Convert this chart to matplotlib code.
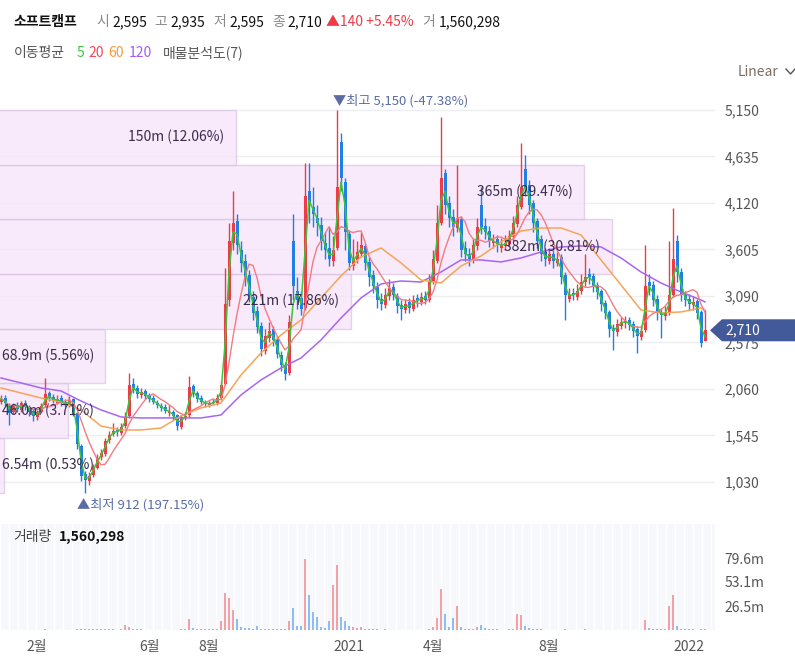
import numpy as np
import pandas as pd
import matplotlib
matplotlib.use('Agg')
import matplotlib.pyplot as plt
from matplotlib.patches import Rectangle, Polygon
from matplotlib.transforms import blended_transform_factory

plt.rcParams['font.family'] = ['Noto Sans CJK KR', 'DejaVu Sans']

name = '소프트캠프'

# 캔들 (3거래일 단위로 읽은 값)
opens = [
    1920, 1960, 1880, 1800, 1880, 1830, 1910, 1860, 1820, 1750,
    1810, 1880, 2010, 1970, 1910, 1960, 1920, 1880, 1950, 1790,
    1430, 1120, 1040, 1110, 1190, 1310, 1340, 1490, 1560, 1620,
    1570, 1650, 1760, 2120, 2070, 1990, 2040, 1990, 1960, 1910,
    1870, 1860, 1790, 1810, 1770, 1640, 1740, 1770, 2090, 2010,
    1960, 1910, 1880, 1920, 1900, 1960, 2110, 3050, 3680, 3920,
    3600, 3480, 3320, 3080, 2920, 2760, 2480, 2620, 2720, 2610,
    2440, 2330, 2240, 3700, 3150, 3070, 2960, 4250, 4080, 3950,
    3880, 3680, 3620, 3480, 3620, 4800, 4350, 3780, 3420, 3490,
    3560, 3640, 3470, 3320, 3190, 3060, 2990, 3090, 3190, 3090,
    2990, 2940, 3020, 2950, 3070, 3020, 3090, 3040, 3240, 3480,
    3900, 4450, 4120, 3960, 3840, 3940, 3620, 3560, 3490, 3640,
    4100, 3870, 3810, 3680, 3720, 3620, 3640, 3670, 3740, 3890,
    4080, 4500, 4320, 4120, 3920, 3720, 3580, 3480, 3560, 3460,
    3520, 3320, 3060, 3120, 3080, 3140, 3240, 3330, 3310, 3210,
    3140, 3010, 2910, 2740, 2690, 2760, 2790, 2820, 2780, 2720,
    2640, 2710, 3250, 3210, 3060, 2910, 2870, 2900, 3100, 3700,
    3360, 3110, 3060, 2990, 3030, 2910, 2595]
highs = [
    1990, 1990, 1900, 1900, 1920, 1930, 1940, 1880, 1840, 1830,
    1900, 2180, 2040, 2000, 1990, 1990, 1950, 1980, 1960, 1800,
    1450, 1150, 1140, 1230, 1340, 1390, 1520, 1590, 1680, 1640,
    1680, 1800, 2240, 2180, 2100, 2070, 2060, 2020, 1990, 1940,
    1900, 1890, 1880, 1830, 1780, 1770, 1800, 2200, 2120, 2040,
    1990, 1940, 1930, 1950, 2000, 2150, 3400, 3900, 4250, 4000,
    3700, 3560, 3380, 3150, 2980, 2800, 2720, 2800, 2760, 2650,
    2480, 2360, 2880, 4000, 3300, 3150, 4560, 4560, 4300, 4100,
    3960, 3800, 3850, 3750, 5150, 4900, 4400, 3820, 3720, 3700,
    3800, 3680, 3520, 3380, 3240, 3120, 3180, 3280, 3230, 3120,
    3040, 3060, 3070, 3100, 3110, 3130, 3140, 3330, 3600, 4100,
    5070, 4500, 4200, 4050, 4540, 3980, 3700, 3620, 3720, 3950,
    4300, 3950, 3860, 3780, 3770, 3730, 3760, 3820, 3980, 4200,
    4780, 4650, 4380, 4150, 3950, 3760, 3620, 3620, 3600, 3580,
    3550, 3350, 3180, 3180, 3220, 3330, 3560, 3400, 3340, 3250,
    3170, 3050, 2940, 2780, 2830, 2860, 2870, 2860, 2810, 2760,
    2760, 3650, 3330, 3260, 3100, 2960, 2980, 3700, 4060, 3760,
    3400, 3150, 3110, 3090, 3060, 2940, 2935]
lows = [
    1890, 1870, 1660, 1780, 1800, 1810, 1830, 1760, 1700, 1720,
    1790, 1860, 1930, 1900, 1890, 1870, 1860, 1860, 1760, 1400,
    1040, 912, 1000, 1080, 1170, 1270, 1320, 1460, 1540, 1540,
    1550, 1630, 1740, 2020, 1960, 1960, 1950, 1920, 1890, 1850,
    1820, 1790, 1760, 1720, 1610, 1620, 1720, 1750, 1970, 1920,
    1890, 1860, 1860, 1880, 1880, 1940, 2100, 2980, 3600, 3550,
    3350, 3200, 3020, 2820, 2680, 2420, 2450, 2580, 2540, 2400,
    2260, 2160, 2220, 3050, 2950, 2880, 2940, 3900, 3850, 3750,
    3600, 3500, 3420, 3420, 3600, 4250, 3600, 3380, 3380, 3450,
    3520, 3380, 3200, 3120, 2960, 2930, 2960, 3050, 3040, 2900,
    2820, 2900, 2900, 2920, 2970, 2990, 3000, 3020, 3220, 3450,
    3880, 4000, 3850, 3750, 3800, 3520, 3480, 3420, 3460, 3600,
    3780, 3720, 3630, 3620, 3580, 3580, 3600, 3640, 3700, 3850,
    4050, 4200, 4000, 3800, 3620, 3480, 3420, 3440, 3400, 3420,
    3220, 2820, 3020, 3040, 3040, 3110, 3200, 3220, 3130, 3060,
    2920, 2830, 2640, 2490, 2650, 2720, 2740, 2710, 2640, 2460,
    2600, 2690, 3100, 2980, 2820, 2620, 2820, 2880, 3080, 3250,
    3030, 2980, 2940, 2940, 2830, 2530, 2595]
closes = [
    1950, 1900, 1790, 1870, 1840, 1900, 1860, 1810, 1760, 1800,
    1870, 2000, 1960, 1930, 1950, 1900, 1890, 1940, 1800, 1450,
    1100, 1050, 1100, 1200, 1300, 1350, 1480, 1550, 1600, 1580,
    1640, 1750, 2100, 2060, 2000, 2030, 1980, 1950, 1920, 1880,
    1850, 1820, 1800, 1760, 1650, 1750, 1760, 2080, 2000, 1950,
    1920, 1890, 1900, 1910, 1960, 2100, 3000, 3700, 3900, 3650,
    3450, 3300, 3100, 2900, 2750, 2500, 2650, 2700, 2600, 2450,
    2320, 2230, 2800, 3200, 3050, 2950, 4200, 4100, 4000, 3900,
    3700, 3600, 3500, 3600, 4300, 4400, 3800, 3450, 3500, 3580,
    3650, 3450, 3300, 3200, 3050, 3000, 3100, 3180, 3100, 2980,
    2950, 3000, 2960, 3050, 3030, 3080, 3050, 3250, 3500, 3900,
    4400, 4100, 3950, 3850, 3950, 3600, 3550, 3500, 3650, 3850,
    3850, 3800, 3700, 3700, 3650, 3650, 3680, 3750, 3900, 4100,
    4300, 4300, 4100, 3900, 3700, 3550, 3500, 3550, 3480, 3500,
    3300, 3100, 3100, 3100, 3150, 3250, 3300, 3300, 3200, 3130,
    3000, 2900, 2720, 2700, 2780, 2800, 2810, 2770, 2700, 2650,
    2700, 3200, 3200, 3050, 2900, 2880, 2900, 3100, 3500, 3350,
    3100, 3050, 3000, 3020, 2900, 2570, 2710]
# 거래량 (백만주)
volumes = [
    0.4, 0.3, 0.5, 0.3, 0.3, 0.4, 0.3, 0.3, 0.4, 0.3,
    0.3, 0.6, 0.4, 0.3, 0.3, 0.3, 0.3, 0.3, 0.4, 0.6,
    0.8, 0.9, 0.6, 0.7, 0.8, 1.5, 0.6, 0.7, 0.8, 0.5,
    0.6, 5.5, 3.0, 1.2, 0.8, 0.6, 0.5, 0.5, 0.4, 0.4,
    0.4, 0.4, 0.5, 0.4, 0.5, 0.6, 0.8, 12.0, 2.0, 1.0,
    0.7, 0.6, 0.6, 0.7, 1.2, 10.0, 41.0, 35.0, 22.0, 12.0,
    3.0, 2.0, 2.0, 1.5, 4.0, 1.5, 1.5, 1.2, 1.0, 1.0,
    1.0, 1.5, 10.0, 24.0, 4.0, 4.0, 78.0, 39.0, 20.0, 14.0,
    3.0, 2.5, 10.0, 50.0, 72.0, 14.0, 10.0, 4.0, 3.0, 2.5,
    3.0, 1.5, 1.0, 0.8, 0.6, 0.5, 0.6, 0.5, 0.4, 0.4,
    0.4, 0.3, 0.3, 0.3, 0.4, 0.3, 0.4, 1.0, 3.0, 13.0,
    45.0, 18.0, 3.0, 13.0, 26.0, 3.0, 1.5, 1.0, 1.5, 3.0,
    6.0, 2.0, 1.0, 0.8, 0.6, 0.5, 0.5, 0.8, 1.0, 18.0,
    17.0, 4.0, 2.0, 1.0, 0.8, 0.6, 0.5, 0.5, 0.4, 0.4,
    0.5, 0.6, 0.4, 0.3, 0.3, 0.4, 1.0, 0.4, 0.3, 0.3,
    0.3, 0.3, 0.4, 0.5, 0.3, 0.3, 0.3, 0.3, 0.3, 0.4,
    0.4, 11.0, 2.0, 1.0, 0.8, 0.6, 0.8, 26.0, 39.0, 4.0,
    1.5, 1.0, 0.8, 0.6, 0.5, 1.0, 1.560298]

# 60일, 120일 이동평균 (5캔들 간격으로 읽음)
ma_idx = list(range(0, 176, 5)) + [176]
ma60 = [2071, 2016, 1960, 1916, 1828, 1650, 1606, 1606, 1628, 1761,
        1850, 1905, 2215, 2459, 2658, 2824, 3068, 3312, 3522, 3622,
        3456, 3267, 3234, 3422, 3533, 3688, 3810, 3843, 3843, 3766,
        3489, 3212, 2935, 2902, 2913, 2957, 2935]
ma120 = [2182, 2127, 2071, 2038, 1927, 1828, 1750, 1739, 1739, 1739,
         1739, 1772, 1994, 2160, 2293, 2403, 2603, 2846, 3068, 3223,
         3256, 3245, 3356, 3489, 3489, 3467, 3511, 3577, 3633, 3644,
         3633, 3511, 3356, 3234, 3134, 3046, 3024]

tick_idx = [9, 37, 52, 87, 108, 137, 172]
tick_labels = ['2월', '6월', '8월', '2021', '4월', '8월', '2022']
price_ticks = [1030, 1545, 2060, 2575, 3090, 3605, 4120, 4635, 5150]
vol_ticks = [26.5, 53.1, 79.6]

# 매물분석도 (아래 구간부터)
profile_vol = [6.54, 46.0, 68.9, 221, 382, 365, 150]
profile_pct = [0.53, 3.71, 5.56, 17.86, 30.81, 29.47, 12.06]

UP = '#ef3a47'
DOWN = '#1f7fe6'
C5, C20, C60, C120 = '#3cc43c', '#f47b80', '#f7a457', '#a865f2'

W, H = 795, 660
fig = plt.figure(figsize=(W / 100, H / 100), dpi=100)


def fx(px):
    return px / W


def fy(py):
    return 1 - py / H


ax = fig.add_axes([0, fy(518), fx(715), fy(80) - fy(518)])
vax = fig.add_axes([0, fy(630), fx(715), fy(524) - fy(630)], sharex=ax)

o = np.array(opens, float)
h = np.array(highs, float)
l = np.array(lows, float)
c = np.array(closes, float)
v = np.array(volumes, float)
n = len(c)
x = np.arange(n)
up = c >= o
col = np.where(up, UP, DOWN)

ax.set_xlim(-0.25, 178.5)
ax.set_ylim(631, 5482)

for s in ax.spines.values():
    s.set_visible(False)
for s in vax.spines.values():
    s.set_visible(False)

# 그리드
for t in price_ticks:
    ax.axhline(t, color='#eceef2', lw=1, zorder=0)

# 매물분석도 박스
edges = np.linspace(l.min(), h.max(), len(profile_vol) + 1)
trans = blended_transform_factory(ax.transAxes, ax.transData)
x0 = -6.6 / 715
maxw = 0.865
labels = []
for k, pv in enumerate(profile_vol):
    w = pv / max(profile_vol) * maxw
    ax.add_patch(Rectangle((x0, edges[k]), w, edges[k + 1] - edges[k], transform=trans,
                           facecolor='#f6e4fa', edgecolor='#dcc4e4', lw=1, alpha=0.75, zorder=1))
    if pv < 10:
        vs = f'{pv:.2f}'
    elif pv < 100:
        vs = f'{pv:.1f}'
    else:
        vs = f'{pv:.0f}'
    t = ax.text(x0 + w - 12 / 715, (edges[k] + edges[k + 1]) / 2, f'{vs}m ({profile_pct[k]:.2f}%)',
                transform=trans, ha='right', va='center', fontsize=10, color='#3a2c4c', zorder=5)
    labels.append(t)

# 캔들
ax.vlines(x, l, h, colors=col, lw=1, zorder=2)
ax.bar(x, np.maximum(np.abs(c - o), 10), bottom=np.minimum(o, c), width=0.75,
       color=col, zorder=2, linewidth=0)

# 이동평균
ma5 = pd.Series(c).rolling(2, min_periods=1).mean()
ma20 = pd.Series(c).rolling(7, min_periods=1).mean()
ax.plot(ma_idx, ma120, color=C120, lw=1.1, zorder=3)
ax.plot(ma_idx, ma60, color=C60, lw=1.1, zorder=3)
ax.plot(x, ma20, color=C20, lw=1.0, zorder=3)
ax.plot(x, ma5, color=C5, lw=1.1, zorder=3)

# 최고 / 최저
last = c[-1]
ih = int(np.argmax(h))
il = int(np.argmin(l))
ax.annotate(f'▼최고 {int(h[ih]):,} ({(last - h[ih]) / h[ih] * 100:.2f}%)', xy=(ih, h[ih]),
            xytext=(-4, 9), textcoords='offset pixels', ha='left', va='center',
            fontsize=9.5, color='#5a6ca6', zorder=6)
ax.annotate(f'▲최저 {int(l[il]):,} ({(last - l[il]) / l[il] * 100:.2f}%)', xy=(il, l[il]),
            xytext=(-8, -12), textcoords='offset pixels', ha='left', va='center',
            fontsize=9.5, color='#5a6ca6', zorder=6)

ax.yaxis.tick_right()
ax.set_yticks(price_ticks)
ax.set_yticklabels([f'{t:,}' for t in price_ticks])
ax.tick_params(axis='y', length=0, pad=7, labelsize=10, labelcolor='#555555')
ax.tick_params(axis='x', bottom=False, labelbottom=False)

# 거래량
vax.set_facecolor('#f6f8fc')
for xv in np.arange(-0.25, 178.5, 2.25):
    vax.axvline(xv, color='white', lw=1, zorder=0)
vcol = np.where(up, '#f4a0a5', '#8dbdf2')
vax.bar(x, v, width=0.5, color=vcol, linewidth=0, zorder=2)
vax.set_ylim(0, 117.2)
vax.yaxis.tick_right()
vax.set_yticks(vol_ticks)
vax.set_yticklabels([f'{t}m' for t in vol_ticks])
vax.tick_params(axis='y', length=0, pad=7, labelsize=10, labelcolor='#555555')
vax.set_xticks(tick_idx)
vax.set_xticklabels(tick_labels)
vax.tick_params(axis='x', length=0, pad=7, labelsize=10, labelcolor='#555555')

# 헤더
def ftext(px, py, s, **kw):
    kw.setdefault('fontsize', 10)
    return fig.text(fx(px), fy(py), s, va='center', ha='left', **kw)


prev = c[-2]
chg = last - prev
ftext(13, 22, name, fontweight='bold', color='#111111')
ftext(96, 22, '시', color='#8a8a8a')
ftext(112, 22, f'{int(o[-1]):,}', color='#111111')
ftext(154, 22, '고', color='#8a8a8a')
ftext(170, 22, f'{int(h[-1]):,}', color='#111111')
ftext(213, 22, '저', color='#8a8a8a')
ftext(229, 22, f'{int(l[-1]):,}', color='#111111')
ftext(272, 22, '종', color='#8a8a8a')
ftext(287, 22, f'{int(last):,}', color='#111111')
ftext(326, 22, f'▲{int(chg):,} +{chg / prev * 100:.2f}%', color='#f03a47')
ftext(422, 22, '거', color='#8a8a8a')
ftext(439, 22, f'{round(v[-1] * 1e6):,}', color='#111111')

ftext(14, 53, '이동평균', color='#555555')
ftext(77, 53, '5', color=C5)
ftext(88, 53, '20', color='#f5475a')
ftext(108, 53, '60', color='#f59a3c')
ftext(129, 53, '120', color='#a55cf5')
ftext(163, 53, '매물분석도(7)', color='#555555')

ftext(738, 72, 'Linear', color='#7f6d64')
fig.lines.append(plt.Line2D([fx(786), fx(790.5), fx(795)], [fy(69), fy(74), fy(69)],
                            transform=fig.transFigure, color='#555555', lw=1))

ftext(13, 537, '거래량', color='#444444')
ftext(59, 537, f'{round(v[-1] * 1e6):,}', fontweight='bold', color='#111111')

# 현재가 라벨
fig.canvas.draw()
disp = ax.transData.transform((0, last))
yc = H - disp[1]
poly = Polygon([(fx(710), fy(yc)), (fx(722), fy(yc - 11)), (fx(795), fy(yc - 11)),
                (fx(795), fy(yc + 11)), (fx(722), fy(yc + 11))],
               closed=True, transform=fig.transFigure, facecolor='#42599a', edgecolor='none', zorder=10)
fig.patches.append(poly)
ftext(725, yc, f'{int(last):,}', color='white', zorder=11)

# 좁은 박스의 라벨은 왼쪽 정렬
renderer = fig.canvas.get_renderer()
axbb = ax.get_window_extent(renderer)
for t in labels:
    bb = t.get_window_extent(renderer)
    if bb.x0 < axbb.x0 + 2:
        t.set_ha('left')
        t.set_x(2 / 715)

fig.savefig('out.png', dpi=100)
